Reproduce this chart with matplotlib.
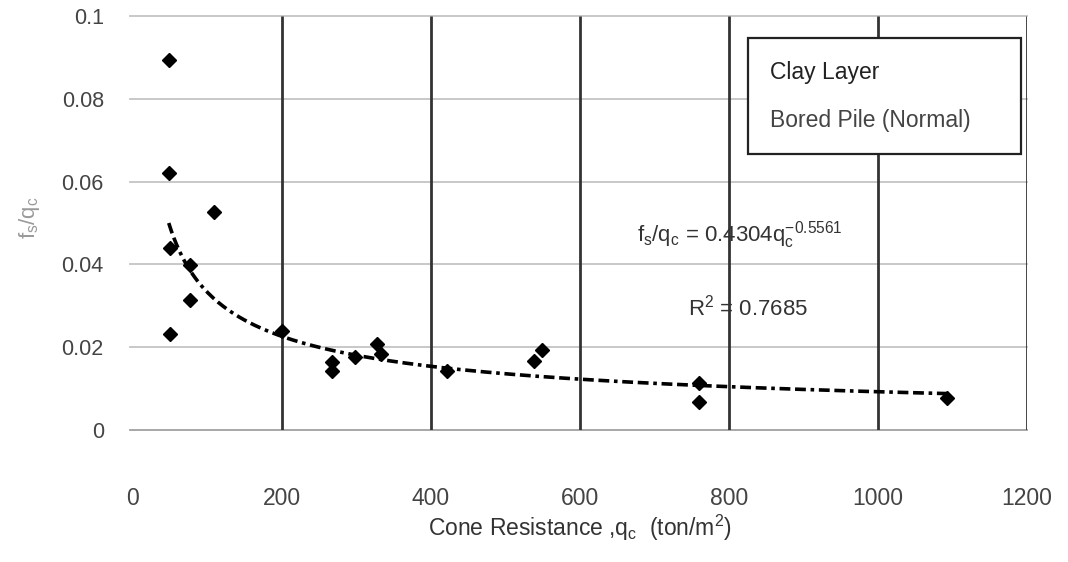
import numpy as np
import matplotlib
matplotlib.use("Agg")
import matplotlib.pyplot as plt

plt.rcParams['font.family'] = ['Liberation Sans', 'DejaVu Sans']
plt.rcParams['mathtext.fontset'] = 'custom'
plt.rcParams['mathtext.rm'] = 'Liberation Sans'
plt.rcParams['mathtext.it'] = 'Liberation Sans'

# Data
qc = [48, 48, 109, 50, 77, 77, 50, 200, 267, 267, 298, 328, 333, 421, 538, 549, 760, 760, 1093]
fs_qc = [0.0894, 0.0620, 0.0527, 0.0440, 0.0399, 0.0314, 0.0232, 0.0239, 0.0164, 0.0143,
         0.0176, 0.0208, 0.0184, 0.0143, 0.0167, 0.0193, 0.0114, 0.0068, 0.0077]
fit_a = 0.4304
fit_b = -0.5561
r2 = 0.7685
x_ticks = [0, 200, 400, 600, 800, 1000, 1200]
y_ticks = [0, 0.02, 0.04, 0.06, 0.08, 0.1]
y_tick_labels = ['0', '0.02', '0.04', '0.06', '0.08', '0.1']

fig = plt.figure(figsize=(10.68, 5.62), dpi=100)
ax = fig.add_axes([0.1245, 0.2349, 0.8371, 0.7366])
ax.set_xlim(0, 1200)
ax.set_ylim(0, 0.1)

for s in ax.spines.values():
    s.set_visible(False)

# grid
for yv in y_ticks:
    ax.axhline(yv, color='#c4c4c4' if yv > 0 else '#a0a0a0', lw=1.3, zorder=1,
               xmin=-0.003, clip_on=False)
ax.vlines([t for t in x_ticks if t > 0], 0, 0.1, color='#333333', lw=2.0, zorder=2)

# fit line
xf = np.linspace(min(qc), max(qc), 300)
ax.plot(xf, fit_a * xf ** fit_b, color='black', lw=2.6,
        linestyle=(0, (3.0, 1.3, 3.0, 1.3, 1.0, 1.3)), zorder=3)

# data points
ax.plot(qc, fs_qc, linestyle='none', marker='D', markersize=7.5,
        color='black', zorder=4)

ax.set_xticks(x_ticks)
ax.set_xticklabels([str(t) for t in x_ticks])
ax.set_yticks(y_ticks)
ax.set_yticklabels(y_tick_labels)
ax.tick_params(axis='x', length=0, pad=41, labelsize=16.5, labelcolor='#444444')
ax.tick_params(axis='y', length=0, pad=21, labelsize=15.5, labelcolor='#444444')

ax.set_xlabel(r'Cone Resistance ,q$_\mathregular{c}$  (ton/m$^\mathregular{2}$)',
              fontsize=16.5, color='#333333', labelpad=2)
ax.set_ylabel(r'f$_\mathregular{s}$/q$_\mathregular{c}$', fontsize=16,
              color='#9a9a9a')
ax.yaxis.set_label_coords(-0.102, 0.512)

ax.text(676, 0.047,
        r'f$_\mathregular{s}$/q$_\mathregular{c}$ = 0.4304q$_\mathregular{c}^{\mathregular{-0.5561}}$',
        fontsize=16, color='#333333', va='center', ha='left', zorder=5)
ax.text(745, 0.0295, r'R$^\mathregular{2}$ = 0.7685',
        fontsize=16, color='#333333', va='center', ha='left', zorder=5)

# legend-like box
fig.patches.append(plt.Rectangle((748 / 1068, 1 - 154 / 562), 273 / 1068, 116 / 562,
                                 transform=fig.transFigure, facecolor='white',
                                 edgecolor='#222222', lw=1.6, zorder=5))
fig.text(770 / 1068, 1 - 72 / 562, 'Clay Layer', fontsize=16.5, color='#222222',
         va='center', ha='left', zorder=6)
fig.text(770 / 1068, 1 - 121 / 562, 'Bored Pile (Normal)', fontsize=16.5, color='#444444',
         va='center', ha='left', zorder=6)

fig.savefig('out.png', dpi=100, facecolor='white')
